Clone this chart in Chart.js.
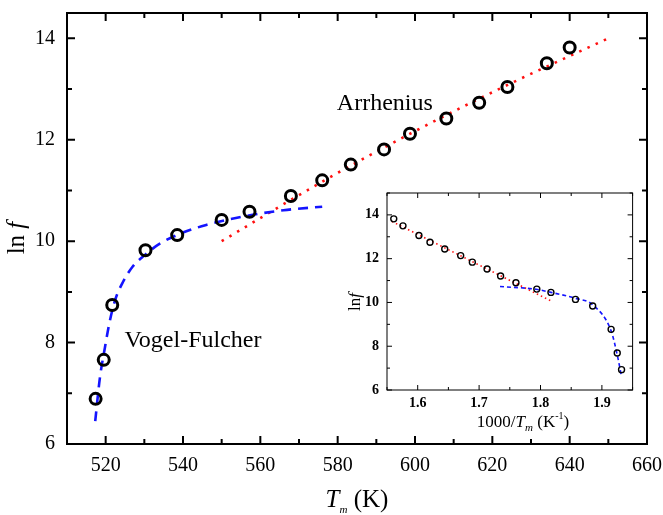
<!DOCTYPE html>
<html>
<head>
<meta charset="utf-8">
<script src="https://cdn.jsdelivr.net/npm/chart.js@4.4.0/dist/chart.umd.min.js"></script>
<style>
html, body { margin: 0; padding: 0; background: #fff; }
#wrap { position: relative; width: 663px; height: 515px; overflow: hidden; }
#main { position: absolute; left: 0; top: 0; }
#inset { position: absolute; left: 330px; top: 180px; }
</style>
</head>
<body>
<div id="wrap">
  <canvas id="main" width="663" height="515"></canvas>
  <canvas id="inset" width="308" height="260"></canvas>
</div>
<script>
// main panel: ln f against T_m (K)
const tempK = [517.4, 519.5, 521.7, 530.3, 538.5, 550.0, 557.2, 567.9, 576.0, 583.4, 592.0, 598.7, 608.1, 616.6, 623.9, 634.1, 640.0];
const lnF = [6.89, 7.66, 8.74, 9.82, 10.12, 10.42, 10.58, 10.89, 11.20, 11.51, 11.81, 12.12, 12.42, 12.73, 13.04, 13.51, 13.82];
const vfT = [517.3, 518.5, 519.8, 521.0, 522.5, 524.5, 527.0, 530.0, 534.0, 540.0, 546.0, 552.0, 558.0, 566.0, 576.0];
const vfLnF = [6.45, 7.30, 7.90, 8.40, 8.85, 9.20, 9.50, 9.72, 9.95, 10.17, 10.32, 10.43, 10.52, 10.61, 10.68];
const arrT = [550, 575, 600, 625, 650];
const arrLnF = [10.0, 11.13, 12.17, 13.12, 14.0];
const mainXTicks = [520, 540, 560, 580, 600, 620, 640, 660];
const mainXMinor = [530, 550, 570, 590, 610, 630, 650];
const mainYTicks = [6, 8, 10, 12, 14];
const mainYMinor = [7, 9, 11, 13];

// inset: ln f against 1000/T_m (K^-1)
const invT = [1.561, 1.576, 1.602, 1.620, 1.644, 1.670, 1.689, 1.713, 1.735, 1.760, 1.794, 1.817, 1.857, 1.885, 1.915, 1.925, 1.932];
const lnFInset = [13.82, 13.50, 13.06, 12.75, 12.44, 12.14, 11.84, 11.53, 11.21, 10.90, 10.61, 10.46, 10.14, 9.84, 8.77, 7.69, 6.93];
const invVf = [1.734, 1.793, 1.817, 1.857, 1.885, 1.915, 1.925, 1.932];
const lnVfInset = [10.73, 10.60, 10.46, 10.19, 9.89, 8.70, 7.60, 6.61];
const invArr = [1.558, 1.817];
const lnArrInset = [13.70, 10.07];
const insetXTicks = [1.6, 1.7, 1.8, 1.9];
const insetXMinor = [1.55, 1.65, 1.75, 1.85, 1.95];
const insetYTicks = [6, 8, 10, 12, 14];
const insetYMinor = [7, 9, 11, 13, 15];

const SERIF = "'Liberation Serif', 'Times New Roman', serif";
const pts = (xs, ys) => xs.map((x, i) => ({ x, y: ys[i] }));

// draws the closed frame with inward ticks on all four sides
const frameTicks = {
    id: "frameTicks",
    beforeDraw(chart, args, o) {
        if (!o.fill) return;
        const a = chart.chartArea, ctx = chart.ctx;
        ctx.save();
        ctx.fillStyle = o.fill;
        ctx.fillRect(a.left, a.top, a.right - a.left, a.bottom - a.top);
        ctx.restore();
    },
    afterDraw(chart, args, o) {
        const { ctx, chartArea: a, scales: { x, y } } = chart;
        ctx.save();
        ctx.strokeStyle = "#000";
        ctx.lineWidth = o.lw;
        ctx.beginPath();
        const seg = (x1, y1, x2, y2) => { ctx.moveTo(x1, y1); ctx.lineTo(x2, y2); };
        const xt = (v, len) => { const p = x.getPixelForValue(v); seg(p, a.bottom, p, a.bottom - len); seg(p, a.top, p, a.top + len); };
        const yt = (v, len) => { const p = y.getPixelForValue(v); seg(a.left, p, a.left + len, p); seg(a.right, p, a.right - len, p); };
        o.xMajor.forEach(v => xt(v, o.major));
        o.xMinor.forEach(v => xt(v, o.minor));
        o.yMajor.forEach(v => yt(v, o.major));
        o.yMinor.forEach(v => yt(v, o.minor));
        ctx.stroke();
        ctx.strokeRect(a.left, a.top, a.right - a.left, a.bottom - a.top);
        ctx.restore();
    }
};

// text drawn as runs: [text, fontSize, italic, yShift]
function drawRuns(ctx, runs, cx, cy, rotate) {
    ctx.save();
    ctx.translate(cx, cy);
    if (rotate) ctx.rotate(-Math.PI / 2);
    ctx.textBaseline = "alphabetic";
    ctx.fillStyle = "#000";
    let total = 0;
    runs.forEach(r => { ctx.font = (r[2] ? "italic " : "") + r[1] + "px " + SERIF; total += ctx.measureText(r[0]).width; });
    let px = -total / 2;
    runs.forEach(r => {
        ctx.font = (r[2] ? "italic " : "") + r[1] + "px " + SERIF;
        ctx.fillText(r[0], px, r[3]);
        px += ctx.measureText(r[0]).width;
    });
    ctx.restore();
}

const textLayer = {
    id: "textLayer",
    afterDraw(chart, args, o) {
        const { ctx, scales: { x, y } } = chart;
        (o.notes || []).forEach(n => {
            ctx.save();
            ctx.font = n.size + "px " + SERIF;
            ctx.fillStyle = "#000";
            ctx.textAlign = "center";
            ctx.textBaseline = "middle";
            ctx.fillText(n.text, x.getPixelForValue(n.x), y.getPixelForValue(n.y));
            ctx.restore();
        });
        if (o.xTitle) drawRuns(ctx, o.xTitle.runs, o.xTitle.cx, o.xTitle.cy, false);
        if (o.yTitle) drawRuns(ctx, o.yTitle.runs, o.yTitle.cx, o.yTitle.cy, true);
    }
};

function axis(min, max, ticks, font, pad, fitKey, fitVal) {
    return {
        type: "linear", min, max,
        grid: { display: false, drawTicks: false },
        border: { display: false },
        afterBuildTicks: s => { s.ticks = ticks.map(v => ({ value: v })); },
        afterFit: s => {
            s[fitKey] = fitVal;
            s.paddingTop = s.paddingBottom = s.paddingLeft = s.paddingRight = 0;
        },
        ticks: { autoSkip: false, color: "#000", padding: pad, font: Object.assign({ family: SERIF }, font) }
    };
}

new Chart(document.getElementById("main"), {
    type: "scatter",
    data: {
        datasets: [
            { data: pts(tempK, lnF), pointRadius: 5.5, pointBorderWidth: 3, pointBorderColor: "#000", pointBackgroundColor: "rgba(0,0,0,0)", showLine: false },
            { data: pts(vfT, vfLnF), showLine: true, pointRadius: 0, borderColor: "#1414ff", borderWidth: 2.6, borderDash: [10, 7], cubicInterpolationMode: "monotone" },
            { data: pts(arrT, arrLnF), showLine: true, pointRadius: 0, borderColor: "#ff1010", borderWidth: 2.6, borderDash: [2.5, 6.5], cubicInterpolationMode: "monotone" }
        ]
    },
    options: {
        responsive: false, animation: false, devicePixelRatio: 1,
        layout: { padding: { left: 0, top: 13, right: 16, bottom: 0 } },
        scales: {
            x: axis(510, 660, mainXTicks, { size: 20 }, 10, "height", 71),
            y: axis(6, 14.5, mainYTicks, { size: 20 }, 12, "width", 67)
        },
        plugins: {
            legend: { display: false }, tooltip: { enabled: false },
            frameTicks: { lw: 2, major: 8, minor: 5, xMajor: mainXTicks, xMinor: mainXMinor, yMajor: mainYTicks, yMinor: mainYMinor },
            textLayer: {
                notes: [
                    { text: "Arrhenius", x: 592.2, y: 12.72, size: 24 },
                    { text: "Vogel-Fulcher", x: 542.6, y: 8.03, size: 24 }
                ],
                xTitle: { cx: 357, cy: 507, runs: [["T", 25, true, 0], ["m", 11, true, 6], [" (K)", 25, false, 0]] },
                yTitle: { cx: 24, cy: 238, runs: [["ln ", 25, false, 0], ["f", 25, true, 0]] }
            }
        }
    },
    plugins: [frameTicks, textLayer]
});

new Chart(document.getElementById("inset"), {
    type: "scatter",
    data: {
        datasets: [
            { data: pts(invT, lnFInset), pointRadius: 3, pointBorderWidth: 1.4, pointBorderColor: "#000", pointBackgroundColor: "rgba(0,0,0,0)", showLine: false },
            { data: pts(invVf, lnVfInset), showLine: true, pointRadius: 0, borderColor: "#1414ff", borderWidth: 1.6, borderDash: [4, 3], cubicInterpolationMode: "monotone" },
            { data: pts(invArr, lnArrInset), showLine: true, pointRadius: 0, borderColor: "#ff1010", borderWidth: 1.6, borderDash: [1.5, 3] }
        ]
    },
    options: {
        responsive: false, animation: false, devicePixelRatio: 1,
        layout: { padding: { left: 0, top: 13, right: 4, bottom: 0 } },
        scales: {
            x: axis(1.55, 1.95, insetXTicks, { size: 14, weight: "bold" }, 5, "height", 50),
            y: axis(6, 15, insetYTicks, { size: 14, weight: "bold" }, 8, "width", 57)
        },
        plugins: {
            legend: { display: false }, tooltip: { enabled: false },
            frameTicks: { lw: 1, fill: "#fff", major: 5, minor: 3, xMajor: insetXTicks, xMinor: insetXMinor, yMajor: insetYTicks, yMinor: insetYMinor },
            textLayer: {
                xTitle: { cx: 193, cy: 247, runs: [["1000/", 17, false, 0], ["T", 17, true, 0], ["m", 11, true, 4], [" (K", 17, false, 0], ["-1", 10, false, -8], [")", 17, false, 0]] },
                yTitle: { cx: 30, cy: 122, runs: [["ln", 17, false, 0], ["f", 17, true, 0]] }
            }
        }
    },
    plugins: [frameTicks, textLayer]
});
</script>
</body>
</html>
